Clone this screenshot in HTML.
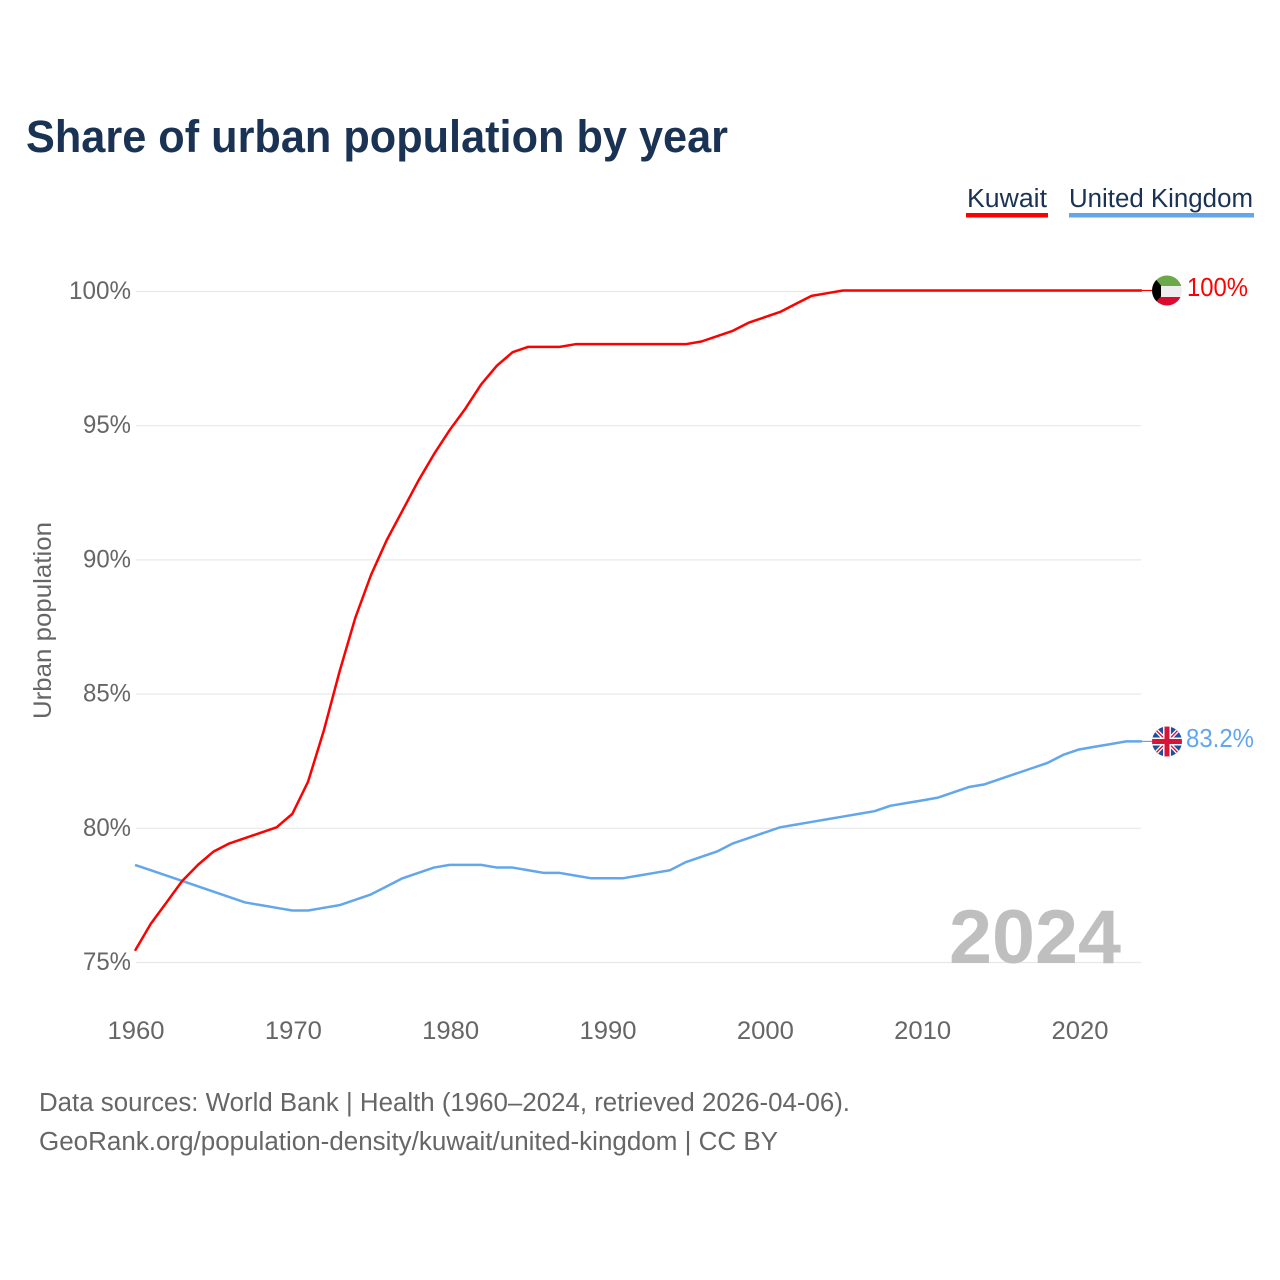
<!DOCTYPE html>
<html lang="en">
<head>
<meta charset="utf-8">
<title>Share of urban population by year</title>
<style>
html,body{margin:0;padding:0;background:#fff;}
svg{display:block;font-family:"Liberation Sans",sans-serif;}
</style>
</head>
<body>
<svg id="chart" xmlns="http://www.w3.org/2000/svg" width="1280" height="1280" viewBox="0 0 1280 1280">
  <defs>
    <clipPath id="clip-kw"><circle cx="1167" cy="290.5" r="15"/></clipPath>
    <clipPath id="clip-uk"><circle cx="1167" cy="741.5" r="15"/></clipPath>
  </defs>
  <rect width="1280" height="1280" fill="#fff"/>
  <text x="26" y="152" font-size="45" font-weight="700" fill="#1a3354" textLength="702" lengthAdjust="spacingAndGlyphs">Share of urban population by year</text>

  <g>
    <g>
      <text x="967" y="207" font-size="25.5" fill="#1a3354" textLength="80" lengthAdjust="spacingAndGlyphs">Kuwait</text>
      <rect x="966" y="213" width="82" height="4.5" fill="#ff0000"/>
    </g>
    <g>
      <text x="1069" y="207" font-size="25.5" fill="#1a3354" textLength="184" lengthAdjust="spacingAndGlyphs">United Kingdom</text>
      <rect x="1069" y="213" width="185" height="4.5" fill="#62a6ec"/>
    </g>
  </g>

  <g id="grid"></g>
  <g id="yticks"></g>
  <g id="xticks"></g>
  <text transform="translate(51,719) rotate(-90)" font-size="25" fill="#666" textLength="197" lengthAdjust="spacingAndGlyphs">Urban population</text>

  <text x="949" y="963" font-size="76" font-weight="700" fill="#bfbfbf" textLength="172" lengthAdjust="spacingAndGlyphs">2024</text>

  <g id="series"></g>

  <g clip-path="url(#clip-kw)">
    <rect x="1152" y="275" width="30" height="11" fill="#6aa84a"/>
    <rect x="1152" y="286" width="30" height="11" fill="#eeeeee"/>
    <rect x="1152" y="297" width="30" height="10" fill="#dc0a2e"/>
    <polygon points="1152,275 1161,285.5 1161,296.5 1152,306" fill="#000"/>
  </g>
  <g clip-path="url(#clip-uk)">
    <rect x="1152" y="726" width="30" height="31" fill="#1f4da0"/>
    <path d="M1152 726L1182 757M1182 726L1152 757" stroke="#fff" stroke-width="4"/>
    <path d="M1152 726L1182 757M1182 726L1152 757" stroke="#d8143a" stroke-width="1.4"/>
    <rect x="1163" y="726" width="8" height="31" fill="#fff"/>
    <rect x="1152" y="737.5" width="30" height="8" fill="#fff"/>
    <rect x="1164.5" y="726" width="5" height="31" fill="#d8143a"/>
    <rect x="1152" y="739" width="30" height="5" fill="#d8143a"/>
  </g>

  <text id="end-kw" x="1187" y="296" font-size="25.5" fill="#ff0000" textLength="61" lengthAdjust="spacingAndGlyphs">100%</text>
  <text id="end-uk" x="1186" y="747" font-size="25.5" fill="#62a6ec" textLength="68" lengthAdjust="spacingAndGlyphs">83.2%</text>

  <g>
    <text x="39" y="1111" font-size="25.5" fill="#666" textLength="811" lengthAdjust="spacingAndGlyphs">Data sources: World Bank | Health (1960–2024, retrieved 2026-04-06).</text>
    <text x="39" y="1150" font-size="25.5" fill="#666" textLength="739" lengthAdjust="spacingAndGlyphs">GeoRank.org/population-density/kuwait/united-kingdom | CC BY</text>
  </g>
</svg>
<script>
var startYear = 1960;
var kuwaitValues = [75.4,76.4,77.2,78.0,78.6,79.1,79.4,79.6,79.8,80.0,80.5,81.7,83.6,85.8,87.8,89.4,90.7,91.8,92.9,93.9,94.8,95.6,96.5,97.2,97.7,97.9,97.9,97.9,98.0,98.0,98.0,98.0,98.0,98.0,98.0,98.0,98.1,98.3,98.5,98.8,99.0,99.2,99.5,99.8,99.9,100,100,100,100,100,100,100,100,100,100,100,100,100,100,100,100,100,100,100,100];
var ukValues = [78.6,78.4,78.2,78.0,77.8,77.6,77.4,77.2,77.1,77.0,76.9,76.9,77.0,77.1,77.3,77.5,77.8,78.1,78.3,78.5,78.6,78.6,78.6,78.5,78.5,78.4,78.3,78.3,78.2,78.1,78.1,78.1,78.2,78.3,78.4,78.7,78.9,79.1,79.4,79.6,79.8,80.0,80.1,80.2,80.3,80.4,80.5,80.6,80.8,80.9,81.0,81.1,81.3,81.5,81.6,81.8,82.0,82.2,82.4,82.7,82.9,83.0,83.1,83.2,83.2];
var yTickValues = [75,80,85,90,95,100];
var xTickValues = [1960,1970,1980,1990,2000,2010,2020];

var NS = 'http://www.w3.org/2000/svg';
function xScale(year){ return 136 + (year - 1960) * (1080 - 136) / 60; }
function yScale(v){ return 291.5 + (100 - v) * (962.5 - 291.5) / 25; }
function lineX(year){ return xScale(year) - 1; }
function lineY(v){ return yScale(v) - 1; }
function svgEl(tag){ return document.createElementNS(NS, tag); }

var gridGroup = document.getElementById('grid');
var yGroup = document.getElementById('yticks');
var xGroup = document.getElementById('xticks');
var seriesGroup = document.getElementById('series');

yTickValues.forEach(function(v){
  var line = svgEl('line');
  
  
  line.setAttribute('x1', 136);
  line.setAttribute('x2', 1141);
  line.setAttribute('y1', yScale(v));
  line.setAttribute('y2', yScale(v));
  line.setAttribute('stroke', '#e8e8e8');
  line.setAttribute('stroke-width', 1.2);
  gridGroup.appendChild(line);

  var label = svgEl('text');
  
  
  label.setAttribute('x', 131);
  label.setAttribute('y', yScale(v) + 7.5);
  label.setAttribute('text-anchor', 'end');
  label.setAttribute('font-size', 25);
  label.setAttribute('fill', '#666');
  label.setAttribute('textLength', v === 100 ? 62 : 48);
  label.setAttribute('lengthAdjust', 'spacingAndGlyphs');
  label.textContent = v + '%';
  yGroup.appendChild(label);
});

xTickValues.forEach(function(year){
  var label = svgEl('text');
  
  
  label.setAttribute('x', xScale(year));
  label.setAttribute('y', 1039);
  label.setAttribute('text-anchor', 'middle');
  label.setAttribute('font-size', 25);
  label.setAttribute('fill', '#666');
  label.setAttribute('textLength', 57);
  label.setAttribute('lengthAdjust', 'spacingAndGlyphs');
  label.textContent = year;
  xGroup.appendChild(label);
});

function linePoints(values){
  return values.map(function(v, i){
    return lineX(startYear + i).toFixed(2) + ',' + lineY(v).toFixed(2);
  }).join(' ');
}

var ukLine = svgEl('polyline');


ukLine.setAttribute('points', linePoints(ukValues));
ukLine.setAttribute('fill', 'none');
ukLine.setAttribute('stroke', '#62a6ec');
ukLine.setAttribute('stroke-width', 2.5);
ukLine.setAttribute('stroke-linejoin', 'round');
seriesGroup.appendChild(ukLine);

var kwLine = svgEl('polyline');


kwLine.setAttribute('points', linePoints(kuwaitValues));
kwLine.setAttribute('fill', 'none');
kwLine.setAttribute('stroke', '#ff0000');
kwLine.setAttribute('stroke-width', 2.5);
kwLine.setAttribute('stroke-linejoin', 'round');
seriesGroup.appendChild(kwLine);

var ukLeader = svgEl('line');


ukLeader.setAttribute('x1', lineX(2024));
ukLeader.setAttribute('x2', 1152);
ukLeader.setAttribute('y1', lineY(ukValues[ukValues.length - 1]));
ukLeader.setAttribute('y2', lineY(ukValues[ukValues.length - 1]));
ukLeader.setAttribute('stroke', '#62a6ec');
ukLeader.setAttribute('stroke-width', 1.2);
seriesGroup.appendChild(ukLeader);

var kwLeader = svgEl('line');


kwLeader.setAttribute('x1', lineX(2024));
kwLeader.setAttribute('x2', 1152);
kwLeader.setAttribute('y1', lineY(kuwaitValues[kuwaitValues.length - 1]));
kwLeader.setAttribute('y2', lineY(kuwaitValues[kuwaitValues.length - 1]));
kwLeader.setAttribute('stroke', '#ff0000');
kwLeader.setAttribute('stroke-width', 1.2);
seriesGroup.appendChild(kwLeader);
</script>
</body>
</html>
